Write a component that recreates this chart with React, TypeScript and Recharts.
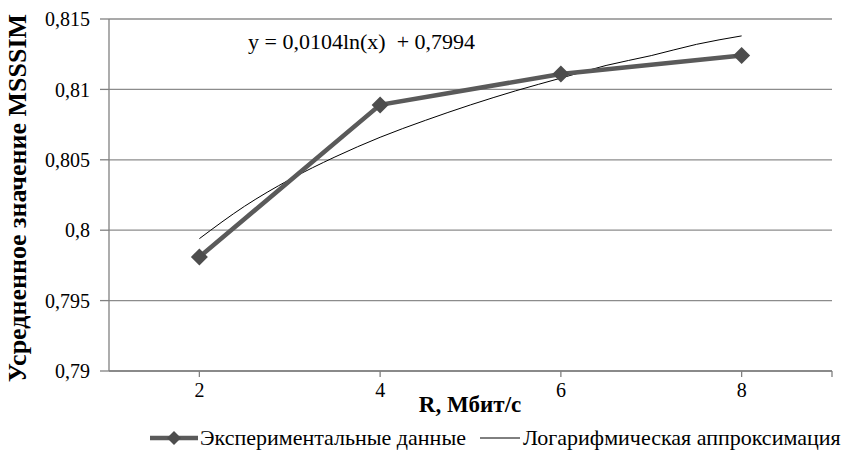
import React from 'react';
import { LineChart, Line, XAxis, YAxis, CartesianGrid } from 'recharts';

const rateValues = [2, 4, 6, 8];
const msssimValues = [0.7981, 0.8089, 0.8111, 0.8124];
const trendRates = [2, 2.5, 3, 3.5, 4, 4.5, 5, 5.5, 6, 6.5, 7, 7.5, 8];
const trendValues = [0.7994, 0.8017, 0.8036, 0.8052, 0.8066, 0.8078, 0.8089, 0.8099, 0.8108, 0.8117, 0.8124, 0.8132, 0.8138];
const xTicks = [2, 4, 6, 8, 9];
const yTicks = [0.79, 0.795, 0.8, 0.805, 0.81, 0.815];

const seriesNames = ['Экспериментальные данные', 'Логарифмическая аппроксимация'];
const xTitle = 'R, Мбит/с';
const yTitle = 'Усредненное значение MSSSIM';
const equation = 'y = 0,0104ln(x)  + 0,7994';

const expData = rateValues.map((r, i) => ({ r, v: msssimValues[i] }));
const trendData = trendRates.map((r, i) => ({ r, t: trendValues[i] }));

const FONT = '"Liberation Serif", "Times New Roman", serif';
const GRID = '#8c8c8c';
const AXIS = '#808080';

const Diamond = (props: any) => {
  const { cx, cy } = props;
  if (cx == null || cy == null) return null;
  const s = 8.5;
  return (
    <path
      d={`M${cx},${cy - s}L${cx + s},${cy}L${cx},${cy + s}L${cx - s},${cy}Z`}
      fill="#4d4d4d"
      stroke="none"
    />
  );
};

export default function App() {
  return (
    <div style={{ position: 'absolute', left: 0, top: 0, width: 849, height: 468, background: '#fff', fontFamily: FONT }}>
      <LineChart width={849} height={468} margin={{ top: 19, right: 17, bottom: 67, left: 0 }} style={{ fontFamily: FONT }}>
        <CartesianGrid vertical={false} stroke={GRID} strokeWidth={1.3} />
        <XAxis
          dataKey="r"
          type="number"
          domain={[1, 9]}
          ticks={xTicks}
          allowDuplicatedCategory={false}
          tickFormatter={(v: number) => (v === 9 ? '' : String(v))}
          stroke={AXIS}
          strokeWidth={1.3}
          tickSize={6}
          tickMargin={6}
          height={30}
          tick={{ fill: '#000', fontFamily: FONT, fontSize: 20 }}
        />
        <YAxis
          type="number"
          domain={[0.79, 0.815]}
          ticks={yTicks}
          tickFormatter={(v: number) => String(v).replace('.', ',')}
          stroke={AXIS}
          strokeWidth={1.3}
          tickSize={9}
          tickMargin={10}
          width={109}
          tick={{ fill: '#000', fontFamily: FONT, fontSize: 20 }}
        />
        <Line
          data={trendData}
          dataKey="t"
          type="monotone"
          stroke="#000"
          strokeWidth={1}
          dot={false}
          isAnimationActive={false}
        />
        <Line
          data={expData}
          dataKey="v"
          type="linear"
          stroke="#5a5a5a"
          strokeWidth={4.5}
          dot={<Diamond />}
          activeDot={false}
          isAnimationActive={false}
        />
      </LineChart>
      <div style={{ position: 'absolute', left: 248, top: 29, fontSize: 22, whiteSpace: 'pre', color: '#000', fontFamily: FONT }}>{equation}</div>
      <div style={{ position: 'absolute', left: 0, top: 392, width: 940, textAlign: 'center', fontSize: 23, fontWeight: 'bold', color: '#000', fontFamily: FONT }}>{xTitle}</div>
      <div
        style={{
          position: 'absolute',
          left: 18,
          top: 198,
          transform: 'translate(-50%, -50%) rotate(-90deg)',
          fontSize: 26,
          fontWeight: 'bold',
          whiteSpace: 'nowrap',
          color: '#000',
          fontFamily: FONT,
        }}
      >
        {yTitle}
      </div>
      <div style={{ position: 'absolute', left: 150, top: 425, height: 26, display: 'flex', alignItems: 'center', whiteSpace: 'nowrap', fontSize: 22, color: '#000', fontFamily: FONT }}>
        <svg width={48} height={20} style={{ marginRight: 2 }}>
          <line x1={0} y1={10} x2={48} y2={10} stroke="#5a5a5a" strokeWidth={4.5} />
          <path d="M24,3L31,10L24,17L17,10Z" fill="#4d4d4d" />
        </svg>
        <span>{seriesNames[0]}</span>
        <svg width={40} height={20} style={{ marginLeft: 14, marginRight: 3 }}>
          <line x1={0} y1={10} x2={40} y2={10} stroke="#000" strokeWidth={1} />
        </svg>
        <span>{seriesNames[1]}</span>
      </div>
    </div>
  );
}
